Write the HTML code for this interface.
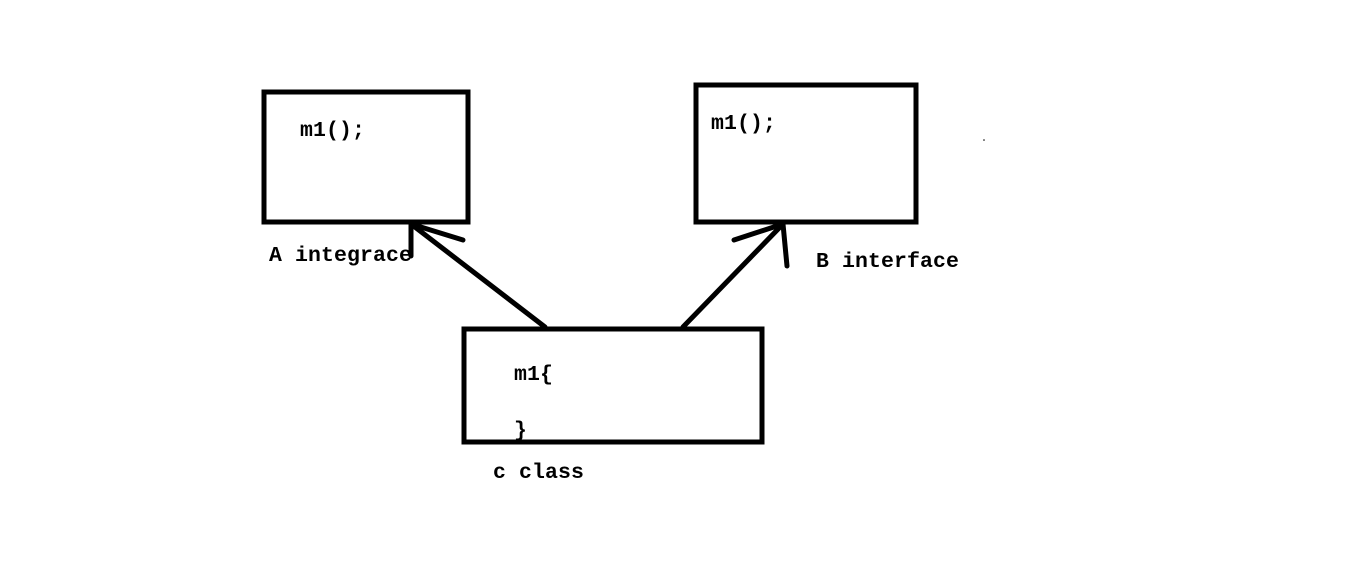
<!DOCTYPE html>
<html><head><style>
html,body{margin:0;padding:0;background:#fff;}
svg text{font-family:"Liberation Mono","DejaVu Sans Mono",monospace;font-weight:bold;font-size:21.5px;letter-spacing:0.1px;fill:#000;}
</style></head><body>
<svg width="1360" height="566" xmlns="http://www.w3.org/2000/svg">
<g fill="none" stroke="#000" stroke-width="5" stroke-linecap="round">
<rect x="264" y="92" width="204" height="130" stroke-linecap="butt"/>
<rect x="696" y="85" width="220" height="137" stroke-linecap="butt"/>
<rect x="464" y="329" width="298" height="113" stroke-linecap="butt"/>
<line x1="545" y1="327" x2="411" y2="224"/>
<line x1="411" y1="224" x2="463" y2="240"/>
<line x1="411" y1="222" x2="411" y2="256"/>
<line x1="683" y1="327" x2="783" y2="224"/>
<line x1="783" y1="224" x2="734" y2="240"/>
<line x1="783" y1="224" x2="787" y2="266"/>
</g>
<circle cx="984" cy="140" r="0.8" fill="#000"/>
<text x="300" y="136">m1();</text>
<text x="711" y="129">m1();</text>
<text x="269" y="261">A integrace</text>
<text x="816" y="267">B interface</text>
<text x="514" y="380">m1{</text>
<text x="514" y="436">}</text>
<text x="493" y="478">c class</text>
</svg>
</body></html>
